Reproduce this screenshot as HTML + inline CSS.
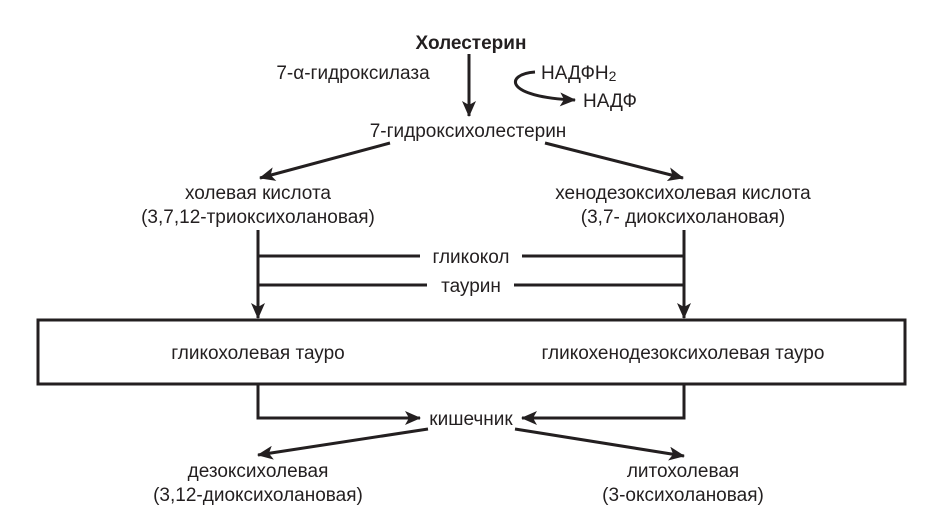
<!DOCTYPE html>
<html><head><meta charset="utf-8"><style>
body{margin:0;background:#fff}
svg text{font-family:"Liberation Sans",sans-serif;font-size:19px;fill:#231f20}
</style></head><body>
<svg width="925" height="521" viewBox="0 0 925 521" xmlns="http://www.w3.org/2000/svg">
<defs>
<marker id="b" markerWidth="16" markerHeight="14" refX="15" refY="7" orient="auto" markerUnits="userSpaceOnUse" viewBox="0 0 16 14"><path d="M0,0 L16,7 L0,14 L4,7z" fill="#231f20"/></marker></defs>
<g stroke="#231f20" stroke-width="3" fill="none">
<line x1="469" y1="54" x2="469" y2="116" marker-end="url(#b)"/>
<path d="M535,72 C505,74 503,97 575,100" marker-end="url(#b)"/>
<line x1="390" y1="143" x2="260" y2="178" marker-end="url(#b)"/>
<line x1="545" y1="143" x2="683" y2="178" marker-end="url(#b)"/>
<line x1="258" y1="230" x2="258" y2="318" marker-end="url(#b)"/>
<line x1="684" y1="230" x2="684" y2="318" marker-end="url(#b)"/>
<line x1="258" y1="256" x2="420" y2="256"/><line x1="522" y1="256" x2="684" y2="256"/>
<line x1="258" y1="285" x2="427" y2="285"/><line x1="514" y1="285" x2="684" y2="285"/>
<rect x="38" y="320" width="867" height="64"/>
<polyline points="258,384 258,418 420,418" marker-end="url(#b)"/>
<polyline points="684,384 684,418 522,418" marker-end="url(#b)"/>
<line x1="428" y1="429" x2="258" y2="455" marker-end="url(#b)"/>
<line x1="515" y1="429" x2="684" y2="456" marker-end="url(#b)"/>
</g>
<g text-anchor="middle">
<text x="471" y="49" style="font-weight:bold;font-size:19px">Холестерин</text>
<text x="353" y="79">7-α-гидроксилаза</text>
<text x="468" y="137">7-гидроксихолестерин</text>
<text x="258" y="199">холевая кислота</text>
<text x="258" y="223">(3,7,12-триоксихолановая)</text>
<text x="683" y="199">хенодезоксихолевая кислота</text>
<text x="683" y="223">(3,7- диоксихолановая)</text>
<text x="471" y="263">гликокол</text>
<text x="471" y="292">таурин</text>
<text x="258" y="359">гликохолевая тауро</text>
<text x="683" y="359">гликохенодезоксихолевая тауро</text>
<text x="471" y="425">кишечник</text>
<text x="258" y="477">дезоксихолевая</text>
<text x="258" y="501">(3,12-диоксихолановая)</text>
<text x="683" y="477">литохолевая</text>
<text x="683" y="501">(3-оксихолановая)</text>
</g>
<text x="541" y="79">НАДФН<tspan font-size="14" dy="2">2</tspan></text>
<text x="583" y="107">НАДФ</text>
</svg>
</body></html>
